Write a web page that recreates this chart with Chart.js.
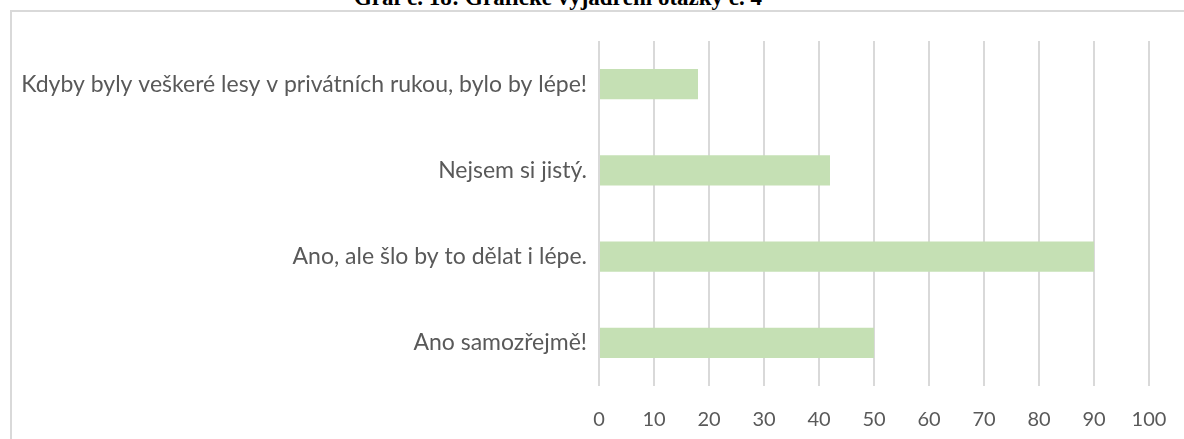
<!DOCTYPE html>
<html>
<head>
<meta charset="utf-8">
<script src="https://cdn.jsdelivr.net/npm/chart.js@4/dist/chart.umd.min.js"></script>
<style>
  html, body { margin: 0; padding: 0; background: #fff; overflow: hidden; }
  #wrap { position: relative; width: 1184px; height: 439px; overflow: hidden; }
  #title { position: absolute; left: 158px; width: 800px; top: -14px; text-align: center;
           font-family: "Liberation Serif", "Times New Roman", serif; font-weight: bold;
           font-size: 23px; line-height: 23px; color: #000; white-space: nowrap; }
  #frame { position: absolute; left: 10px; top: 10px; width: 1200px; height: 500px;
           border-top: 2px solid #d9d9d9; border-left: 2px solid #d9d9d9; }
  canvas { position: absolute; left: 0; top: 0; }
</style>
</head>
<body>
<div id="wrap">
  <div id="title">Graf č. 18: Grafické vyjádření otázky č. 4</div>
  <div id="frame"></div>
  <canvas id="c" width="1184" height="439"></canvas>
</div>
<script>
const categories = [
  "Kdyby byly veškeré lesy v privátních rukou, bylo by lépe!",
  "Nejsem si jistý.",
  "Ano, ale šlo by to dělat i lépe.",
  "Ano samozřejmě!"
];
const values = [18, 42, 90, 50];
const tickValues = [0, 10, 20, 30, 40, 50, 60, 70, 80, 90, 100];

const FONT = "Lato, 'Open Sans', sans-serif";

new Chart(document.getElementById('c'), {
  type: 'bar',
  data: {
    labels: categories,
    datasets: [{
      data: values,
      backgroundColor: '#c5e0b4',
      borderWidth: 0,
      categoryPercentage: 1,
      barPercentage: 0.35
    }]
  },
  options: {
    indexAxis: 'y',
    responsive: false,
    animation: false,
    events: [],
    layout: { padding: { top: 41, right: 35, left: 0, bottom: 0 } },
    plugins: { legend: { display: false }, tooltip: { enabled: false }, title: { display: false } },
    scales: {
      x: {
        min: 0, max: 100,
        afterBuildTicks: (s) => { s.ticks = tickValues.map(v => ({ value: v })); },
        afterFit: (s) => { s.height = 53; s.paddingLeft = 0; s.paddingRight = 0; },
        grid: { color: '#d9d9d9', lineWidth: 2, drawTicks: false },
        border: { display: false },
        ticks: { color: '#595959', padding: 22, font: { family: FONT, size: 20 } }
      },
      y: {
        afterFit: (s) => { s.width = 599; s.paddingTop = 0; s.paddingBottom = 0; },
        grid: { display: false, drawTicks: false },
        border: { display: false },
        ticks: { color: '#595959', padding: 12, font: { family: FONT, size: 23 } }
      }
    }
  }
});
</script>
</body>
</html>
